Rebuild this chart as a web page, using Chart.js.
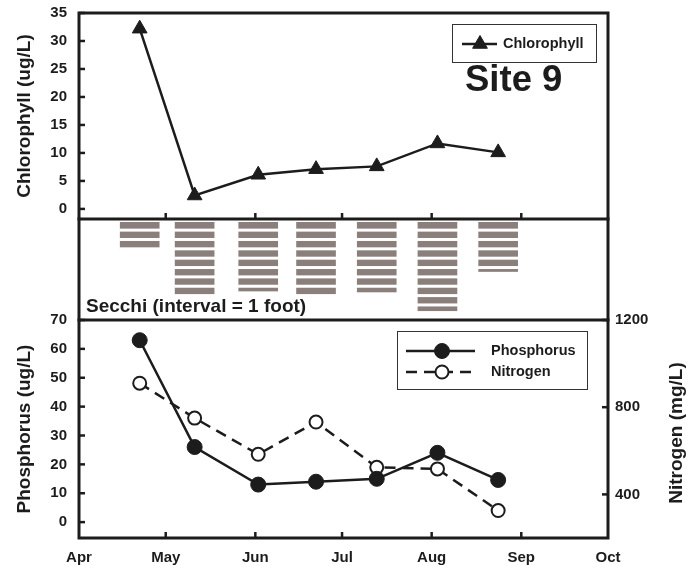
<!DOCTYPE html>
<html><head><meta charset="utf-8">
<script src="https://cdn.jsdelivr.net/npm/chart.js@4.4.1/dist/chart.umd.min.js"></script>
<style>
body{margin:0;background:#fff;}
#wrap{position:relative;width:695px;height:567px;overflow:hidden;}
#wrap canvas{position:absolute;left:0;top:0;}
</style></head>
<body><div id="wrap">
<canvas id="c1" width="695" height="567"></canvas>
<canvas id="c2" width="695" height="567"></canvas>
<canvas id="c3" width="695" height="567"></canvas>
</div>
<script>
// ---- data (days counted from April 1) ----
const sampleDays   = [21, 40, 62, 82, 103, 124, 145];
const chlorophyll  = [32.2, 2.4, 6.1, 7.1, 7.6, 11.7, 10.1];   // ug/L
const secchiFeet   = [3, 8, 7.4, 8, 7.5, 9.5, 5.3];           // feet
const phosphorus   = [63, 26, 13, 14, 15, 24, 14.6];           // ug/L
const nitrogen     = [910, 750, 584, 732, 524, 517, 326];      // mg/L
const monthNames   = ['Apr','May','Jun','Jul','Aug','Sep','Oct'];
const monthDays    = [0, 30, 61, 91, 122, 153, 183];
const chlTicks     = [0, 5, 10, 15, 20, 25, 30, 35];
const phosTicks    = [0, 10, 20, 30, 40, 50, 60, 70];
const nitroTicks   = [400, 800, 1200];

const INK = '#1c1c1c';
const FONT = '"Liberation Sans", Arial, Helvetica, sans-serif';
Chart.defaults.font.family = FONT;
Chart.defaults.color = INK;
const innerMonths = monthDays.slice(1, -1);

const pts = (vals) => sampleDays.map((d, i) => ({x: d, y: vals[i]}));

// per-canvas decoration settings (kept outside Chart.js option resolution)
const DECOR = {
  c1: {
    sides: ['top', 'left', 'right', 'bottom'],
    ticks: [{scale: 'y', side: 'left', values: chlTicks}, {scale: 'x', side: 'bottom', values: innerMonths}],
    texts: [{text: 'Site 9', x: 465, y: 91, size: 36.5, baseline: 'alphabetic'}],
    legends: [{box: [452, 24, 144, 38], rows: [{ds: 0, x0: 462, x1: 497, xm: 480, xt: 503, y: 44}]}]
  },
  c2: {
    sides: ['left', 'right'], ticks: [],
    texts: [{text: 'Secchi (interval = 1 foot)', x: 86, y: 307, size: 19}],
    legends: []
  },
  c3: {
    sides: ['top', 'left', 'right', 'bottom'],
    ticks: [{scale: 'y', side: 'left', values: phosTicks}, {scale: 'y2', side: 'right', values: nitroTicks},
            {scale: 'x', side: 'bottom', values: innerMonths}],
    texts: [{text: 'Nitrogen (mg/L)', x: 677, y: 433, size: 19, align: 'center', rot: -Math.PI / 2}],
    legends: [{box: [397, 331, 190, 58], rows: [
      {ds: 0, x0: 406, x1: 475, xm: 442, xt: 491, y: 351},
      {ds: 1, x0: 406, x1: 475, xm: 442, xt: 491, y: 372}
    ]}]
  }
};

// frame + inward tick marks drawn from the chart's own scales, plus text and legends
const decorPlugin = {
  id: 'decor',
  afterDraw(chart) {
    const cfg = DECOR[chart.canvas.id];
    const {ctx, chartArea: a} = chart;
    ctx.save();
    ctx.strokeStyle = INK;
    ctx.lineWidth = 3;
    ctx.lineCap = 'square';
    ctx.beginPath();
    cfg.sides.forEach(s => {
      if (s === 'top') { ctx.moveTo(a.left, a.top); ctx.lineTo(a.right, a.top); }
      if (s === 'bottom') { ctx.moveTo(a.left, a.bottom); ctx.lineTo(a.right, a.bottom); }
      if (s === 'left') { ctx.moveTo(a.left, a.top); ctx.lineTo(a.left, a.bottom); }
      if (s === 'right') { ctx.moveTo(a.right, a.top); ctx.lineTo(a.right, a.bottom); }
    });
    ctx.stroke();
    ctx.lineWidth = 2.5;
    ctx.lineCap = 'butt';
    cfg.ticks.forEach(t => {
      const sc = chart.scales[t.scale];
      t.values.forEach(v => {
        const p = sc.getPixelForValue(v);
        ctx.beginPath();
        if (t.side === 'left') { ctx.moveTo(a.left, p); ctx.lineTo(a.left + 6, p); }
        if (t.side === 'right') { ctx.moveTo(a.right, p); ctx.lineTo(a.right - 6, p); }
        if (t.side === 'bottom') { ctx.moveTo(p, a.bottom); ctx.lineTo(p, a.bottom - 6); }
        ctx.stroke();
      });
    });
    cfg.texts.forEach(t => {
      ctx.save();
      ctx.font = 'bold ' + t.size + 'px ' + FONT;
      ctx.fillStyle = INK;
      ctx.textAlign = t.align || 'left';
      ctx.textBaseline = t.baseline || 'middle';
      ctx.translate(t.x, t.y);
      if (t.rot) ctx.rotate(t.rot);
      ctx.fillText(t.text, 0, 0);
      ctx.restore();
    });
    cfg.legends.forEach(L => {
      ctx.save();
      ctx.strokeStyle = '#333';
      ctx.lineWidth = 1;
      ctx.fillStyle = '#fff';
      ctx.fillRect(L.box[0], L.box[1], L.box[2], L.box[3]);
      ctx.strokeRect(L.box[0] + 0.5, L.box[1] + 0.5, L.box[2], L.box[3]);
      L.rows.forEach(r => {
        const ds = chart.data.datasets[r.ds];
        ctx.strokeStyle = ds.borderColor;
        ctx.lineWidth = ds.borderWidth;
        ctx.setLineDash(ds.borderDash || []);
        ctx.beginPath();
        ctx.moveTo(r.x0, r.y); ctx.lineTo(r.x1, r.y);
        ctx.stroke();
        ctx.setLineDash([]);
        ctx.fillStyle = ds.pointBackgroundColor;
        ctx.strokeStyle = ds.pointBorderColor;
        ctx.lineWidth = ds.pointBorderWidth;
        Chart.helpers.drawPoint(ctx, {pointStyle: ds.pointStyle, radius: ds.pointRadius, borderWidth: ds.pointBorderWidth, rotation: 0}, r.xm, r.y);
        ctx.fillStyle = INK;
        ctx.font = 'bold 14.5px ' + FONT;
        ctx.textAlign = 'left';
        ctx.textBaseline = 'middle';
        ctx.fillText(ds.label, r.xt, r.y);
      });
      ctx.restore();
    });
    ctx.restore();
  }
};

// white foot-interval separators on the Secchi bars
const GAP = 0.32;
const stripePlugin = {
  id: 'stripes',
  afterDatasetsDraw(chart) {
    const {ctx} = chart;
    const ys = chart.scales.y;
    const meta = chart.getDatasetMeta(0);
    ctx.save();
    ctx.fillStyle = '#ffffff';
    meta.data.forEach((bar, i) => {
      const d = secchiFeet[i];
      const {x, width} = bar.getProps(['x', 'width'], true);
      for (let k = 1; k <= Math.ceil(d); k++) {
        const a = ys.getPixelForValue(Math.min(k - GAP, d));
        let b = ys.getPixelForValue(Math.min(k, d));
        if (k >= d) b += 2;
        if (b > a) ctx.fillRect(x - width / 2 - 1, a, width + 2, b - a);
      }
    });
    ctx.restore();
  }
};

const tickFont = {size: 15, weight: 'bold'};
const titleFont = {size: 19, weight: 'bold'};
const common = {
  responsive: false, animation: false, events: [],
  plugins: {legend: {display: false}, tooltip: {enabled: false}}
};
const noOverflowV = (w) => (s) => { s.width = w; s.paddingTop = 0; s.paddingBottom = 0; };

// ---- top panel: chlorophyll ----
new Chart(document.getElementById('c1'), {
  type: 'line',
  data: {datasets: [{
    label: 'Chlorophyll', data: pts(chlorophyll),
    borderColor: INK, borderWidth: 2.5, tension: 0,
    pointStyle: 'triangle', pointRadius: 8.5, pointBorderWidth: 1,
    pointBackgroundColor: INK, pointBorderColor: INK
  }]},
  options: Object.assign({}, common, {
    layout: {padding: {top: 13, bottom: 567 - 219, left: 0, right: 695 - 608}},
    scales: {
      x: {type: 'linear', min: 0, max: 183, display: false},
      y: {
        min: -1.8, max: 35,
        afterFit: noOverflowV(79),
        afterBuildTicks(s) { s.ticks = chlTicks.map(v => ({value: v})); },
        grid: {display: false, drawTicks: false}, border: {display: false},
        ticks: {padding: 12, font: tickFont, color: INK},
        title: {display: true, text: 'Chlorophyll (ug/L)', font: titleFont, color: INK, padding: {top: 13, bottom: 0}}
      }
    }
  }),
  plugins: [decorPlugin]
});

// ---- middle panel: Secchi ----
new Chart(document.getElementById('c2'), {
  type: 'bar',
  data: {datasets: [{
    label: 'Secchi', data: pts(secchiFeet),
    backgroundColor: '#8b7f7b', borderWidth: 0, barThickness: 39
  }]},
  options: Object.assign({}, common, {
    layout: {padding: {top: 219, bottom: 567 - 320, left: 79, right: 695 - 608}},
    scales: {
      x: {type: 'linear', min: 0, max: 183, offset: false, display: false},
      y: {min: -0.35, max: 10.45, reverse: true, display: false}
    }
  }),
  plugins: [stripePlugin, decorPlugin]
});

// ---- bottom panel: phosphorus & nitrogen ----
new Chart(document.getElementById('c3'), {
  type: 'line',
  data: {datasets: [{
    label: 'Phosphorus', data: pts(phosphorus), yAxisID: 'y',
    borderColor: INK, borderWidth: 2.5, tension: 0,
    pointStyle: 'circle', pointRadius: 7.5, pointBorderWidth: 1,
    pointBackgroundColor: INK, pointBorderColor: INK
  }, {
    label: 'Nitrogen', data: pts(nitrogen), yAxisID: 'y2',
    borderColor: INK, borderWidth: 2.5, borderDash: [11, 7], tension: 0,
    pointStyle: 'circle', pointRadius: 6.5, pointBorderWidth: 2,
    pointBackgroundColor: '#ffffff', pointBorderColor: INK
  }]},
  options: Object.assign({}, common, {
    layout: {padding: {top: 320, bottom: 0, left: 0, right: 0}},
    scales: {
      x: {
        type: 'linear', min: 0, max: 183,
        afterFit(s) { s.height = 29; s.paddingLeft = 0; s.paddingRight = 0; },
        afterBuildTicks(s) { s.ticks = monthDays.map(v => ({value: v})); },
        grid: {display: false, drawTicks: false}, border: {display: false},
        ticks: {padding: 11, font: tickFont, color: INK, autoSkip: false, maxRotation: 0,
          callback: (v) => monthNames[monthDays.indexOf(v)]}
      },
      y: {
        position: 'left', min: -5.5, max: 70,
        afterFit: noOverflowV(79),
        afterBuildTicks(s) { s.ticks = phosTicks.map(v => ({value: v})); },
        grid: {display: false, drawTicks: false}, border: {display: false},
        ticks: {padding: 12, font: tickFont, color: INK, callback: (v) => String(v)},
        title: {display: true, text: 'Phosphorus (ug/L)', font: titleFont, color: INK, padding: {top: 13, bottom: 0}}
      },
      y2: {
        position: 'right', min: 200, max: 1200,
        afterFit: noOverflowV(87),
        afterBuildTicks(s) { s.ticks = nitroTicks.map(v => ({value: v})); },
        grid: {display: false, drawTicks: false}, border: {display: false},
        ticks: {padding: 7, font: tickFont, color: INK, callback: (v) => String(v)}
      }
    }
  }),
  plugins: [decorPlugin]
});
</script>
</body></html>
